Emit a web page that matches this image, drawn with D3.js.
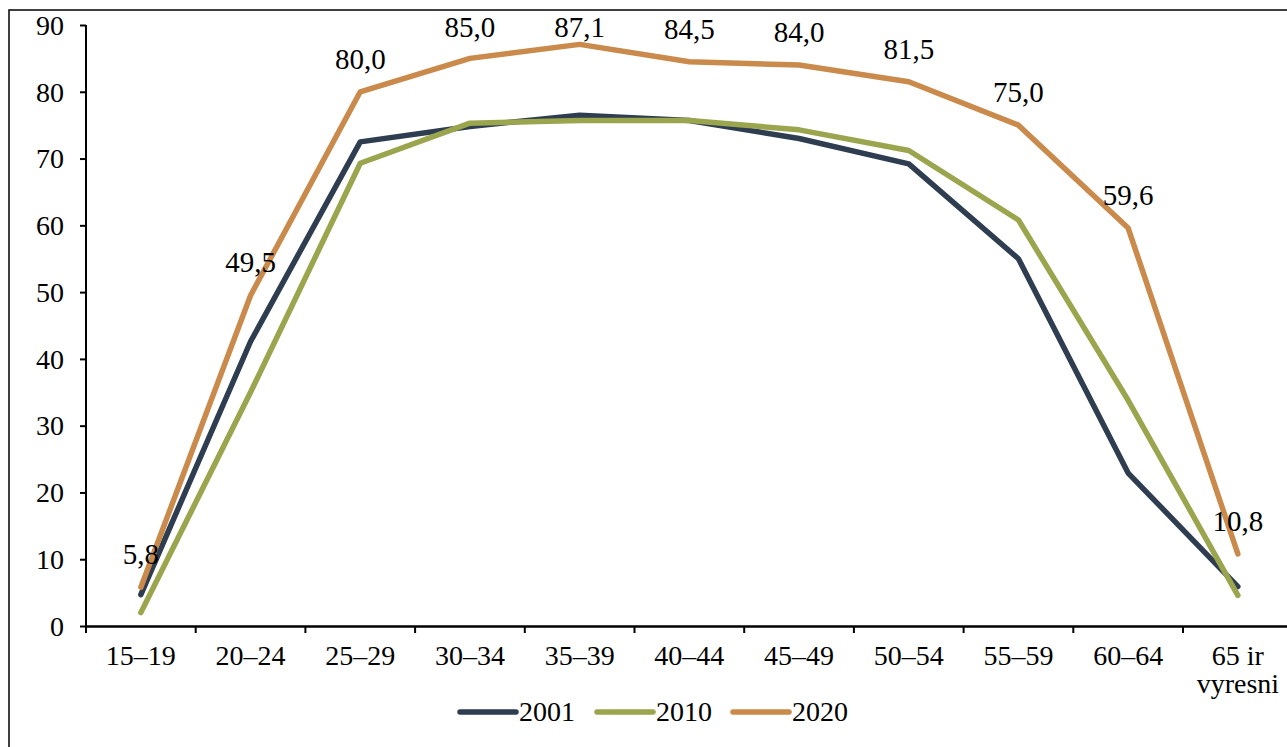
<!DOCTYPE html>
<html><head><meta charset="utf-8">
<script src="https://cdn.jsdelivr.net/npm/d3@7/dist/d3.min.js"></script>
<style>
html,body{margin:0;padding:0;background:#fff;}
svg{display:block;}
</style></head>
<body>
<svg id="c" width="1287" height="747"></svg>
<script>
const categories = ["15–19","20–24","25–29","30–34","35–39","40–44","45–49","50–54","55–59","60–64","65 ir vyresni"];
const years = ["2001","2010","2020"];
const values2001 = [4.7, 42.6, 72.5, 74.8, 76.5, 75.7, 73.0, 69.2, 55.0, 22.9, 5.9];
const values2010 = [2.0, 35.0, 69.3, 75.3, 75.7, 75.7, 74.3, 71.2, 60.8, 33.8, 4.6];
const values2020 = [5.8, 49.5, 80.0, 85.0, 87.1, 84.5, 84.0, 81.5, 75.0, 59.6, 10.8];
const yTicks = [0,10,20,30,40,50,60,70,80,90];
const colors = ["#2E3D4F","#9AA54E","#C98A4B"];
const seriesValues = [values2001, values2010, values2020];

(function(){
const FONT = "'Liberation Serif'";
const svg = d3.select("#c");
const pLeft = 86, pTop = 25, pBottom = 626, step = 109.7;
const x = d3.scaleBand().domain(categories).range([pLeft, pLeft + step*categories.length]).padding(0);
const y = d3.scaleLinear().domain([0,90]).range([pBottom, pTop]);

// outer frame
svg.append("rect").attr("x",9).attr("y",10).attr("width",1400).attr("height",900)
  .attr("fill","none").attr("stroke","#000").attr("stroke-width",1.5);

// y axis
const ya = svg.append("g").attr("transform",`translate(${pLeft},0)`)
  .call(d3.axisLeft(y).tickValues(yTicks).tickFormat(d3.format("d")).tickSize(6).tickSizeOuter(0).tickPadding(16));
ya.attr("font-family",null).attr("font-size",null);
ya.select(".domain").attr("stroke","#000").attr("stroke-width",2).attr("d",`M0,${pTop}V${pBottom+6}`);
ya.selectAll(".tick line").attr("stroke","#000").attr("stroke-width",2);
ya.selectAll(".tick text").style("font-family",FONT).style("font-size","28px").attr("fill","#000").attr("dy","0.33em");

// x axis
const xa = svg.append("g").attr("transform",`translate(0,${pBottom})`)
  .call(d3.axisBottom(x).tickSize(0).tickSizeOuter(0).tickPadding(0));
xa.attr("font-family",null).attr("font-size",null);
xa.select(".domain").attr("stroke","#000").attr("stroke-width",2.5);
xa.selectAll(".tick text").style("font-family",FONT).style("font-size","28px").attr("fill","#000")
  .attr("dy",null).attr("y",39)
  .each(function(d){
    const t = d3.select(this);
    const words = d.split(" ");
    if (words.length > 2) {
      t.text(null);
      t.append("tspan").attr("x",0).attr("y",39).text(words[0]+" "+words[1]);
      t.append("tspan").attr("x",0).attr("y",67).text(words.slice(2).join(" "));
    }
  });
const boundaries = categories.map(c => x(c)).concat([x(categories[categories.length-1]) + x.bandwidth()]);
svg.append("g").selectAll("line").data(boundaries).join("line")
  .attr("x1",d=>d).attr("x2",d=>d).attr("y1",pBottom).attr("y2",pBottom+7)
  .attr("stroke","#000").attr("stroke-width",2);

// lines
const line = d3.line().x((d,i)=>x(categories[i]) + x.bandwidth()/2).y(d=>y(d));
seriesValues.forEach((vals,k)=>{
  svg.append("path").datum(vals).attr("d",line)
    .attr("fill","none").attr("stroke",colors[k]).attr("stroke-width",5.5)
    .attr("stroke-linecap","round").attr("stroke-linejoin","round");
});

// labels for 2020
svg.append("g").selectAll("text").data(values2020).join("text")
  .attr("x",(d,i)=>x(categories[i]) + x.bandwidth()/2)
  .attr("y",d=>Math.max(y(d) - 23, 37))
  .attr("text-anchor","middle").style("font-family",FONT).style("font-size","29px")
  .text(d=>d3.format(".1f")(d).replace(".",","));

// legend
const legX = [460, 597, 733];
const lg = svg.append("g");
years.forEach((yr,k)=>{
  lg.append("line").attr("x1",legX[k]).attr("x2",legX[k]+56).attr("y1",712).attr("y2",712)
    .attr("stroke",colors[k]).attr("stroke-width",5.5).attr("stroke-linecap","round");
  lg.append("text").attr("x",legX[k]+59).attr("y",721).style("font-family",FONT).style("font-size","28px").text(yr);
});
})();
</script>
</body></html>
